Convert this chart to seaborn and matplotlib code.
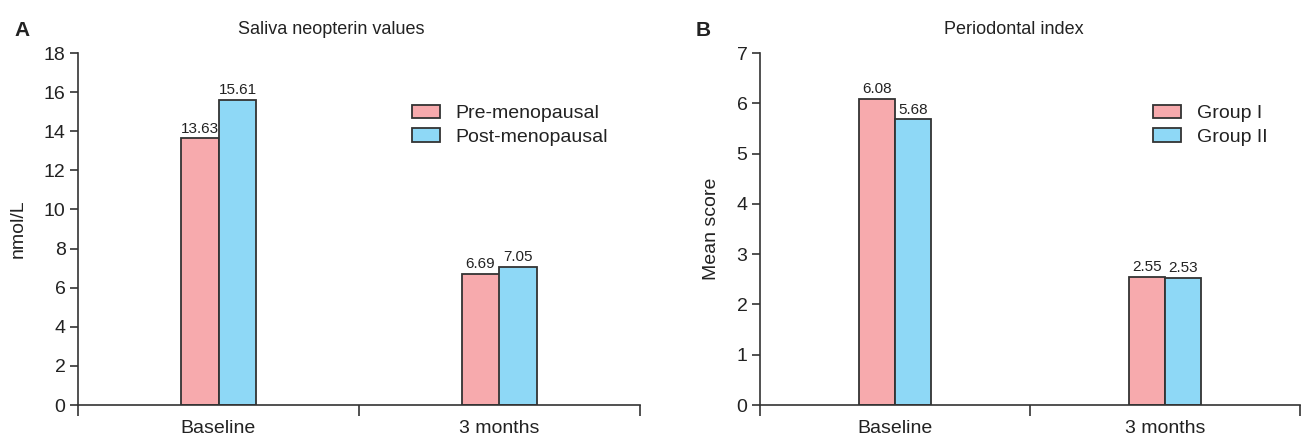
import matplotlib
matplotlib.use("Agg")
import matplotlib.pyplot as plt
import seaborn as sns
import pandas as pd
import numpy as np
from matplotlib.ticker import FixedLocator

categories = ["Baseline", "3 months"]

a_title = "Saliva neopterin values"
a_ylabel = "nmol/L"
a_groups = ["Pre-menopausal", "Post-menopausal"]
a_pre = [13.63, 6.69]
a_post = [15.61, 7.05]
a_yticks = [0, 2, 4, 6, 8, 10, 12, 14, 16, 18]

b_title = "Periodontal index"
b_ylabel = "Mean score"
b_groups = ["Group I", "Group II"]
b_g1 = [6.08, 2.55]
b_g2 = [5.68, 2.53]
b_yticks = [0, 1, 2, 3, 4, 5, 6, 7]

colors = ["#F7AAAD", "#8ED8F6"]
edge = "#333333"

sns.set_theme(style="white")
plt.rcParams['font.family'] = ['Liberation Sans', 'DejaVu Sans']
plt.rcParams['text.color'] = '#222222'

fig = plt.figure(figsize=(13.11, 4.38), dpi=100)
axA = fig.add_axes([78/1311, 1-405/438, (640-78)/1311, (405-53)/438])
axB = fig.add_axes([760/1311, 1-405/438, (1300-760)/1311, (405-53)/438])


def panel(ax, title, ylabel, groups, s1, s2, yticks, legend_anchor, title_x):
    df = pd.DataFrame({
        "cat": categories * 2,
        "grp": [groups[0]] * len(categories) + [groups[1]] * len(categories),
        "val": list(s1) + list(s2),
    })
    sns.barplot(data=df, x="cat", y="val", hue="grp", order=categories,
                hue_order=groups, palette=colors, width=0.27,
                edgecolor=edge, linewidth=1.3, saturation=1, ax=ax, errorbar=None)
    for c in ax.containers:
        ax.bar_label(c, fmt="%.2f", padding=2, fontsize=11, color="#222222")
    ax.set_xlim(-0.5, len(categories) - 0.5)
    ax.set_ylim(yticks[0], yticks[-1])
    ax.set_yticks(yticks)
    ax.set_xlabel("")
    ax.set_ylabel(ylabel, fontsize=14, color="#222222", labelpad=12)
    ax.set_title(title, fontsize=13, color="#222222", x=title_x, pad=14)
    ax.xaxis.set_minor_locator(FixedLocator([-0.5 + i for i in range(len(categories) + 1)]))
    ax.tick_params(axis="x", which="major", length=0, labelsize=14, pad=11, labelcolor="#222222")
    ax.tick_params(axis="x", which="minor", length=8, width=1.2, color=edge, direction="out", bottom=True)
    ax.tick_params(axis="y", length=6, width=1.2, color=edge, labelsize=14, left=True, direction="out", pad=3, labelcolor="#222222")
    for s in ["top", "right"]:
        ax.spines[s].set_visible(False)
    for s in ["left", "bottom"]:
        ax.spines[s].set_color(edge)
        ax.spines[s].set_linewidth(1.2)
    leg = ax.legend(loc="upper left", bbox_to_anchor=legend_anchor, frameon=False,
                    fontsize=14, handlelength=1.45, handleheight=0.7,
                    handletextpad=0.8, labelspacing=0.3, borderaxespad=0)
    for t in leg.get_texts():
        t.set_color("#222222")


panel(axA, a_title, a_ylabel, a_groups, a_pre, a_post, a_yticks,
      ((404 - 78) / 562, 1 - (97 - 53) / 352), 0.45)
panel(axB, b_title, b_ylabel, b_groups, b_g1, b_g2, b_yticks,
      ((1145 - 760) / 540, 1 - (97 - 53) / 352), 0.47)

fig.text(14/1311, 1-30/438, "A", fontsize=15, fontweight="bold", va="center", ha="left", color="#222222")
fig.text(696/1311, 1-30/438, "B", fontsize=15, fontweight="bold", va="center", ha="left", color="#222222")

fig.savefig("out.png", dpi=100, facecolor="white")
